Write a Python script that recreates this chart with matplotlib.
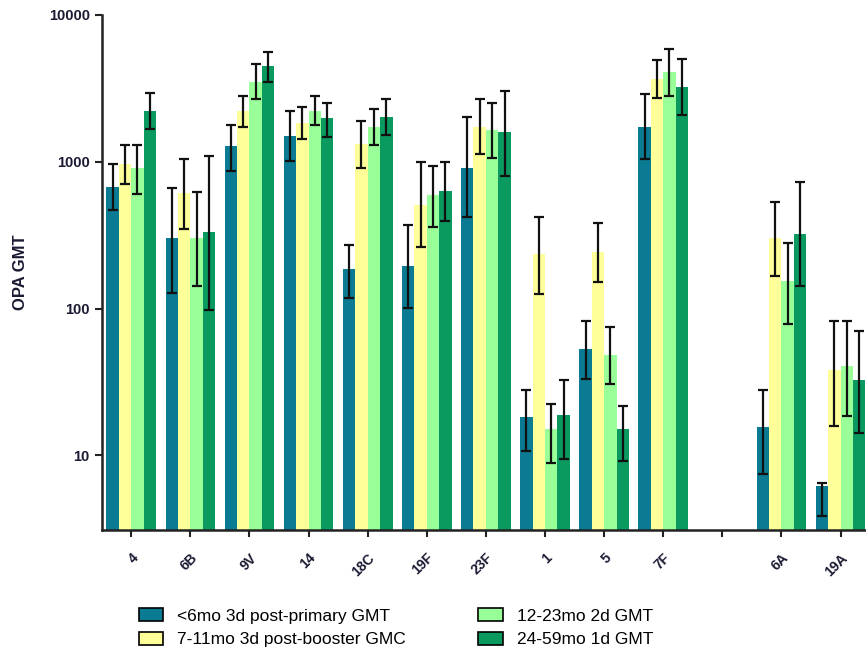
import matplotlib.pyplot as plt
from matplotlib.patches import Patch
import numpy as np

plt.rcParams['font.family'] = ['Liberation Sans', 'DejaVu Sans']

# serotypes (blank slot between 7F and 6A)
serotypes = ['4', '6B', '9V', '14', '18C', '19F', '23F', '1', '5', '7F', '', '6A', '19A']
nan = np.nan

# <6mo 3d post-primary
lt6 = [669, 301, 1279, 1496, 185, 195, 910, 17.1, 52, 1734, nan, 14.7, 5.15]
lt6_lo = [469, 128, 869, 1016, 118, 101, 418, 10.7, 33.2, 1050, nan, 7.4, 3.85]
lt6_hi = [960, 659, 1778, 2218, 270, 368, 2018, 27.8, 82, 2912, nan, 27.7, 6.5]

# 7-11mo 3d post-booster
m7_11 = [964, 609, 2230, 1845, 1321, 507, 1734, 235, 242, 3650, nan, 301, 37]
m7_11_lo = [705, 346, 1714, 1429, 902, 262, 1122, 125, 151, 2716, nan, 166, 15.8]
m7_11_hi = [1300, 1050, 2820, 2349, 1893, 991, 2660, 418, 380, 4910, nan, 534, 82]

# 12-23mo 2d
m12_23 = [910, 301, 3510, 2230, 1734, 593, 1644, 14.2, 47.3, 4110, nan, 152, 39.4]
m12_23_lo = [603, 142, 2660, 1770, 1300, 357, 1055, 8.8, 30.4, 2807, nan, 79, 18.5]
m12_23_hi = [1300, 625, 4640, 2820, 2285, 935, 2500, 22.3, 74.3, 5890, nan, 279, 82]

# 24-59mo 1d
m24_59 = [2230, 330, 4510, 1977, 2028, 631, 1585, 17.8, 14.2, 3214, nan, 320, 31.8]
m24_59_lo = [1663, 97.5, 3490, 1483, 1520, 393, 798, 9.4, 9.1, 2070, nan, 142, 14.1]
m24_59_hi = [2925, 1094, 5570, 2500, 2660, 991, 3035, 32.4, 21.6, 5010, nan, 723, 70.2]

series = [
    ('<6mo 3d post-primary GMT', lt6, lt6_lo, lt6_hi, '#0a7b92'),
    ('7-11mo 3d post-booster GMC', m7_11, m7_11_lo, m7_11_hi, '#ffff99'),
    ('12-23mo 2d GMT', m12_23, m12_23_lo, m12_23_hi, '#99ff99'),
    ('24-59mo 1d GMT', m24_59, m24_59_lo, m24_59_hi, '#0a9a5f'),
]

fig = plt.figure(figsize=(8.66, 6.51), dpi=100)
ax = fig.add_axes([0.1174, 0.186, 0.8826, 0.791])
ax.set_yscale('log')

x = np.arange(len(serotypes))
w = 0.21
offsets = [-1.5 * w, -0.5 * w, 0.5 * w, 1.5 * w]

for (name, vals, lo, hi, col), off in zip(series, offsets):
    v = np.array(vals, dtype=float)
    yerr = [v - np.array(lo, dtype=float), np.array(hi, dtype=float) - v]
    ax.bar(x + off, v, width=w, color=col, bottom=1, zorder=2)
    ax.errorbar(x + off, v, yerr=yerr, fmt='none', ecolor='#111111',
                elinewidth=1.6, capsize=3.4, capthick=1.6, zorder=3)

ax.set_ylim(3.1, 10000)
ax.set_xlim(-0.5, 12.43)
ax.set_yticks([10, 100, 1000, 10000])
ax.set_yticklabels(['10', '100', '1000', '10000'], fontsize=10.5,
                   fontweight='bold', color='#1a1a33')
ax.minorticks_off()
ax.set_xticks(x)
ax.set_xticklabels(serotypes, rotation=45, ha='right', rotation_mode='anchor',
                   fontsize=10, fontweight='bold', color='#1a1a33')
ax.tick_params(axis='both', length=5, width=1.5, color='#222222')
ax.tick_params(axis='x', pad=10)

for s in ['top', 'right']:
    ax.spines[s].set_visible(False)
for s in ['left', 'bottom']:
    ax.spines[s].set_linewidth(1.8)
    ax.spines[s].set_color('#222222')

ax.set_ylabel('OPA GMT', fontsize=12, fontweight='bold', color='#1a1a33')
ax.yaxis.set_label_coords(-0.096, 0.5)

handles = [Patch(facecolor=s[4], edgecolor='black', linewidth=1.2, label=s[0])
           for s in series]
fig.legend(handles=handles, ncol=2, frameon=False, fontsize=12.5,
           loc='upper left', bbox_to_anchor=(0.142, 0.09),
           handlelength=1.4, handleheight=0.8, handletextpad=0.8,
           columnspacing=4.2, labelspacing=0.45)

fig.savefig('out.png', dpi=100)
